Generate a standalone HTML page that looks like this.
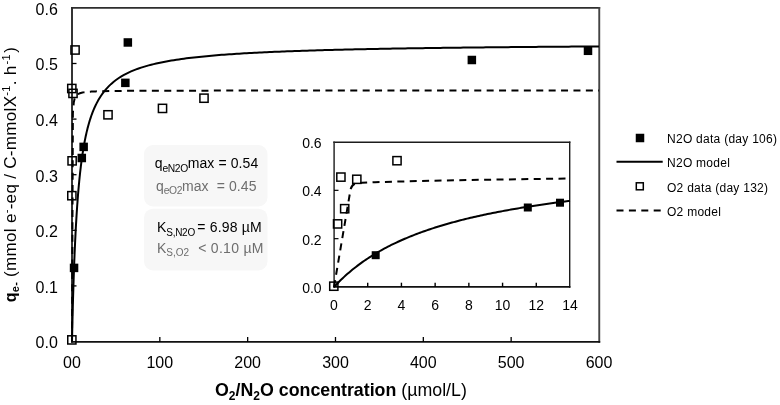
<!DOCTYPE html><html><head><meta charset="utf-8"><style>html,body{margin:0;padding:0;background:#fff;}svg{display:block;will-change:transform;}</style></head><body>
<svg width="780" height="405" viewBox="0 0 780 405">
<rect width="780" height="405" fill="#fff"/>
<rect x="144" y="145" width="123.5" height="61.5" rx="9" fill="#f7f7f7"/>
<rect x="144" y="208.7" width="123.5" height="61.7" rx="9" fill="#f7f7f7"/>
<line x1="71" y1="7.9" x2="600.2" y2="7.9" stroke="#2e2e2e" stroke-width="1.9"/>
<line x1="599.25" y1="7" x2="599.25" y2="342.7" stroke="#444" stroke-width="1.9"/>
<line x1="72" y1="7" x2="72" y2="342.7" stroke="#2a2a2a" stroke-width="1.9"/>
<line x1="71" y1="341.8" x2="600.2" y2="341.8" stroke="#111" stroke-width="1.8"/>
<line x1="72" y1="285.9" x2="76.5" y2="285.9" stroke="#000" stroke-width="1.3"/>
<line x1="72" y1="230.3" x2="76.5" y2="230.3" stroke="#000" stroke-width="1.3"/>
<line x1="72" y1="174.7" x2="76.5" y2="174.7" stroke="#000" stroke-width="1.3"/>
<line x1="72" y1="119.1" x2="76.5" y2="119.1" stroke="#000" stroke-width="1.3"/>
<line x1="72" y1="63.5" x2="76.5" y2="63.5" stroke="#000" stroke-width="1.3"/>
<line x1="159.83" y1="337" x2="159.83" y2="342" stroke="#000" stroke-width="1.3"/>
<line x1="247.66" y1="337" x2="247.66" y2="342" stroke="#000" stroke-width="1.3"/>
<line x1="335.49" y1="337" x2="335.49" y2="342" stroke="#000" stroke-width="1.3"/>
<line x1="423.32" y1="337" x2="423.32" y2="342" stroke="#000" stroke-width="1.3"/>
<line x1="511.15" y1="337" x2="511.15" y2="342" stroke="#000" stroke-width="1.3"/>
<text x="57.8" y="348.4" font-size="16" text-anchor="end" font-family="Liberation Sans, sans-serif">0.0</text>
<text x="57.8" y="292.8" font-size="16" text-anchor="end" font-family="Liberation Sans, sans-serif">0.1</text>
<text x="57.8" y="237.2" font-size="16" text-anchor="end" font-family="Liberation Sans, sans-serif">0.2</text>
<text x="57.8" y="181.6" font-size="16" text-anchor="end" font-family="Liberation Sans, sans-serif">0.3</text>
<text x="57.8" y="126" font-size="16" text-anchor="end" font-family="Liberation Sans, sans-serif">0.4</text>
<text x="57.8" y="70.4" font-size="16" text-anchor="end" font-family="Liberation Sans, sans-serif">0.5</text>
<text x="57.8" y="14.8" font-size="16" text-anchor="end" font-family="Liberation Sans, sans-serif">0.6</text>
<text x="72" y="367.5" font-size="16" text-anchor="middle" font-family="Liberation Sans, sans-serif">00</text>
<text x="159.83" y="367.5" font-size="16" text-anchor="middle" font-family="Liberation Sans, sans-serif">100</text>
<text x="247.66" y="367.5" font-size="16" text-anchor="middle" font-family="Liberation Sans, sans-serif">200</text>
<text x="335.49" y="367.5" font-size="16" text-anchor="middle" font-family="Liberation Sans, sans-serif">300</text>
<text x="423.32" y="367.5" font-size="16" text-anchor="middle" font-family="Liberation Sans, sans-serif">400</text>
<text x="511.15" y="367.5" font-size="16" text-anchor="middle" font-family="Liberation Sans, sans-serif">500</text>
<text x="598.98" y="367.5" font-size="16" text-anchor="middle" font-family="Liberation Sans, sans-serif">600</text>
<path d="M72 341.5 L72.04 339.41 L72.09 337.35 L72.13 335.32 L72.18 333.32 L72.22 331.34 L72.26 329.4 L72.31 327.47 L72.35 325.58 L72.4 323.7 L72.44 321.86 L72.48 320.03 L72.53 318.23 L72.57 316.46 L72.61 314.71 L72.66 312.97 L72.7 311.26 L72.75 309.58 L72.79 307.91 L72.83 306.26 L72.88 304.64 L72.92 303.03 L72.97 301.45 L73.01 299.88 L73.05 298.33 L73.1 296.8 L73.14 295.29 L73.19 293.8 L73.23 292.32 L73.27 290.86 L73.32 289.42 L73.36 288 L73.41 286.59 L73.45 285.2 L73.49 283.82 L73.54 282.46 L73.58 281.11 L73.62 279.78 L73.67 278.47 L73.71 277.17 L73.76 275.88 L73.93 270.87 L74.11 266.07 L74.28 261.47 L74.46 257.06 L74.63 252.82 L74.81 248.74 L74.99 244.82 L75.16 241.05 L75.34 237.41 L75.51 233.91 L75.69 230.53 L75.86 227.26 L76.04 224.11 L76.22 221.07 L76.39 218.12 L76.57 215.27 L76.74 212.52 L76.92 209.85 L77.09 207.26 L77.27 204.75 L77.45 202.32 L77.62 199.95 L77.8 197.66 L77.97 195.44 L78.15 193.27 L78.32 191.17 L78.5 189.13 L78.68 187.14 L78.85 185.2 L79.03 183.32 L79.2 181.48 L79.38 179.69 L79.55 177.95 L79.73 176.25 L79.9 174.6 L80.08 172.98 L80.26 171.4 L80.43 169.87 L80.61 168.36 L80.78 166.9 L80.96 165.46 L81.13 164.06 L81.31 162.69 L81.49 161.36 L81.66 160.05 L81.84 158.77 L82.01 157.52 L82.19 156.29 L82.36 155.09 L82.54 153.92 L82.72 152.77 L82.89 151.64 L83.07 150.54 L83.24 149.45 L83.42 148.39 L83.59 147.35 L83.77 146.34 L83.94 145.34 L84.12 144.36 L84.3 143.4 L84.47 142.45 L84.65 141.53 L84.82 140.62 L85 139.73 L85.17 138.85 L85.35 137.99 L85.53 137.14 L85.7 136.31 L85.88 135.5 L86.05 134.7 L86.23 133.91 L86.4 133.13 L86.58 132.37 L86.76 131.63 L86.93 130.89 L87.11 130.17 L87.28 129.45 L87.46 128.75 L87.63 128.06 L87.81 127.38 L87.99 126.72 L88.16 126.06 L88.34 125.41 L88.51 124.78 L88.69 124.15 L88.86 123.53 L89.04 122.92 L89.21 122.32 L89.39 121.73 L89.57 121.15 L89.74 120.58 L89.92 120.01 L90.09 119.46 L90.27 118.91 L90.44 118.37 L90.62 117.83 L90.8 117.31 L90.97 116.79 L91.15 116.28 L91.32 115.78 L91.5 115.28 L91.67 114.79 L91.85 114.3 L92.03 113.83 L92.2 113.36 L92.38 112.89 L92.55 112.43 L92.73 111.98 L92.9 111.53 L93.08 111.09 L93.25 110.66 L93.43 110.23 L93.61 109.8 L93.78 109.38 L93.96 108.97 L94.13 108.56 L94.31 108.15 L94.48 107.76 L94.66 107.36 L94.84 106.97 L95.01 106.59 L95.19 106.21 L95.36 105.83 L95.54 105.46 L95.71 105.09 L95.89 104.73 L96.07 104.37 L96.24 104.02 L96.42 103.67 L96.59 103.32 L96.77 102.98 L96.94 102.64 L97.12 102.31 L97.3 101.98 L97.47 101.65 L97.65 101.33 L97.82 101.01 L98 100.69 L98.17 100.38 L98.35 100.07 L100.86 95.97 L103.38 92.42 L105.9 89.32 L108.41 86.58 L110.93 84.15 L113.44 81.98 L115.96 80.02 L118.47 78.25 L120.99 76.64 L123.51 75.17 L126.02 73.83 L128.54 72.59 L131.05 71.45 L133.57 70.39 L136.09 69.4 L138.6 68.49 L141.12 67.64 L143.63 66.84 L146.15 66.09 L148.66 65.39 L151.18 64.73 L153.7 64.1 L156.21 63.51 L158.73 62.96 L161.24 62.43 L163.76 61.93 L166.27 61.45 L168.79 61 L171.31 60.57 L173.82 60.16 L176.34 59.77 L178.85 59.39 L181.37 59.03 L183.88 58.69 L186.4 58.36 L188.92 58.05 L191.43 57.74 L193.95 57.45 L196.46 57.17 L198.98 56.9 L201.49 56.65 L204.01 56.4 L206.53 56.16 L209.04 55.92 L211.56 55.7 L214.07 55.48 L216.59 55.27 L219.1 55.07 L221.62 54.87 L224.14 54.68 L226.65 54.5 L229.17 54.32 L231.68 54.15 L234.2 53.98 L236.71 53.82 L239.23 53.66 L241.75 53.51 L244.26 53.36 L246.78 53.21 L249.29 53.07 L251.81 52.94 L254.32 52.8 L256.84 52.67 L259.36 52.55 L261.87 52.42 L264.39 52.3 L266.9 52.18 L269.42 52.07 L271.93 51.96 L274.45 51.85 L276.97 51.74 L279.48 51.64 L282 51.54 L284.51 51.44 L287.03 51.34 L289.54 51.25 L292.06 51.16 L294.58 51.07 L297.09 50.98 L299.61 50.89 L302.12 50.81 L304.64 50.72 L307.15 50.64 L309.67 50.56 L312.19 50.48 L314.7 50.41 L317.22 50.33 L319.73 50.26 L322.25 50.19 L324.77 50.12 L327.28 50.05 L329.8 49.98 L332.31 49.91 L334.83 49.85 L337.34 49.78 L339.86 49.72 L342.38 49.66 L344.89 49.6 L347.41 49.54 L349.92 49.48 L352.44 49.42 L354.95 49.37 L357.47 49.31 L359.99 49.26 L362.5 49.2 L365.02 49.15 L367.53 49.1 L370.05 49.05 L372.56 49 L375.08 48.95 L377.6 48.9 L380.11 48.85 L382.63 48.8 L385.14 48.76 L387.66 48.71 L390.17 48.67 L392.69 48.62 L395.21 48.58 L397.72 48.54 L400.24 48.49 L402.75 48.45 L405.27 48.41 L407.78 48.37 L410.3 48.33 L412.82 48.29 L415.33 48.25 L417.85 48.22 L420.36 48.18 L422.88 48.14 L425.39 48.11 L427.91 48.07 L430.43 48.03 L432.94 48 L435.46 47.96 L437.97 47.93 L440.49 47.9 L443 47.86 L445.52 47.83 L448.04 47.8 L450.55 47.77 L453.07 47.74 L455.58 47.7 L458.1 47.67 L460.61 47.64 L463.13 47.61 L465.65 47.58 L468.16 47.55 L470.68 47.53 L473.19 47.5 L475.71 47.47 L478.22 47.44 L480.74 47.41 L483.26 47.39 L485.77 47.36 L488.29 47.33 L490.8 47.31 L493.32 47.28 L495.83 47.26 L498.35 47.23 L500.87 47.21 L503.38 47.18 L505.9 47.16 L508.41 47.13 L510.93 47.11 L513.45 47.09 L515.96 47.06 L518.48 47.04 L520.99 47.02 L523.51 47 L526.02 46.97 L528.54 46.95 L531.06 46.93 L533.57 46.91 L536.09 46.89 L538.6 46.87 L541.12 46.84 L543.63 46.82 L546.15 46.8 L548.67 46.78 L551.18 46.76 L553.7 46.74 L556.21 46.72 L558.73 46.7 L561.24 46.69 L563.76 46.67 L566.28 46.65 L568.79 46.63 L571.31 46.61 L573.82 46.59 L576.34 46.57 L578.85 46.56 L581.37 46.54 L583.89 46.52 L586.4 46.5 L588.92 46.49 L591.43 46.47 L593.95 46.45 L596.46 46.44 L598.98 46.42" fill="none" stroke="#000" stroke-width="2"/>
<path d="M72 341.5 L72.88 113.29 L73.76 102.42 L74.63 98.56 L75.51 96.59 L76.39 95.39 L77.27 94.58 L78.15 94 L79.03 93.57 L79.9 93.22 L80.78 92.95 L81.66 92.73 L82.54 92.54 L83.42 92.38 L84.3 92.25 L85.17 92.13 L86.05 92.03 L86.93 91.93 L87.81 91.85 L88.69 91.78 L89.57 91.71 L90.44 91.66 L91.32 91.6 L92.2 91.55 L93.08 91.51 L93.96 91.47 L94.84 91.43 L95.71 91.39 L96.59 91.36 L97.47 91.33 L98.35 91.3 L102.74 91.18 L115.46 90.97 L128.19 90.86 L140.91 90.79 L153.64 90.74 L166.36 90.7 L179.09 90.67 L191.81 90.65 L204.53 90.63 L217.26 90.62 L229.98 90.61 L242.71 90.6 L255.43 90.59 L268.15 90.58 L280.88 90.57 L293.6 90.57 L306.33 90.56 L319.05 90.56 L331.77 90.55 L344.5 90.55 L357.22 90.54 L369.95 90.54 L382.67 90.54 L395.39 90.53 L408.12 90.53 L420.84 90.53 L433.57 90.53 L446.29 90.52 L459.02 90.52 L471.74 90.52 L484.46 90.52 L497.19 90.52 L509.91 90.52 L522.64 90.51 L535.36 90.51 L548.08 90.51 L560.81 90.51 L573.53 90.51 L586.26 90.51 L598.98 90.51" fill="none" stroke="#000" stroke-width="2" stroke-dasharray="7 5.4" stroke-dashoffset="-0.6"/>
<rect x="67.75" y="335.8" width="8.2" height="8.2" fill="none" stroke="#000" stroke-width="1.5"/>
<rect x="67.75" y="191.6" width="8.2" height="8.2" fill="none" stroke="#000" stroke-width="1.5"/>
<rect x="68" y="156.75" width="8.2" height="8.2" fill="none" stroke="#000" stroke-width="1.5"/>
<rect x="67.7" y="84.4" width="8.2" height="8.2" fill="none" stroke="#000" stroke-width="1.5"/>
<rect x="68.9" y="89.3" width="8.2" height="8.2" fill="none" stroke="#000" stroke-width="1.5"/>
<rect x="70.95" y="45.9" width="8.2" height="8.2" fill="none" stroke="#000" stroke-width="1.5"/>
<rect x="103.9" y="110.7" width="8.2" height="8.2" fill="none" stroke="#000" stroke-width="1.5"/>
<rect x="158.4" y="104.3" width="8.2" height="8.2" fill="none" stroke="#000" stroke-width="1.5"/>
<rect x="199.9" y="94.1" width="8.2" height="8.2" fill="none" stroke="#000" stroke-width="1.5"/>
<rect x="69.8" y="263.65" width="8.5" height="8.5" fill="#000"/>
<rect x="77.55" y="153.75" width="8.5" height="8.5" fill="#000"/>
<rect x="79.4" y="142.65" width="8.5" height="8.5" fill="#000"/>
<rect x="121.1" y="78.6" width="8.5" height="8.5" fill="#000"/>
<rect x="123.59" y="38.21" width="8.5" height="8.5" fill="#000"/>
<rect x="467.6" y="55.75" width="8.5" height="8.5" fill="#000"/>
<rect x="583.75" y="46.55" width="8.5" height="8.5" fill="#000"/>
<g font-family="Liberation Sans, sans-serif" font-size="14">
<text x="154.8" y="168" fill="#000">q<tspan font-size="10.3" letter-spacing="-0.45" dy="3.5">eN2O</tspan><tspan dy="-3.5" letter-spacing="0.1">max = 0.54</tspan></text>
<text x="156" y="190.6" fill="#6e6e6e">q<tspan font-size="10.3" letter-spacing="-0.45" dy="3.5">eO2</tspan><tspan dy="-3.5" letter-spacing="0.1">max&#160; = 0.45</tspan></text>
<text x="157" y="232.2" fill="#000">K<tspan font-size="10" letter-spacing="-0.3" dy="3.3">S,N2O</tspan><tspan dy="-3.3" dx="2.4" letter-spacing="0.18">= 6.98 µM</tspan></text>
<text x="157" y="252.8" fill="#6e6e6e">K<tspan font-size="10" dy="3.3">S,O2</tspan><tspan dy="-3.3" dx="9" letter-spacing="0.3">&lt; 0.10 µM</tspan></text>
</g>
<rect x="334" y="142.3" width="235.7" height="144.6" fill="#fff"/>
<line x1="333.3" y1="142.3" x2="570.4" y2="142.3" stroke="#1c1c1c" stroke-width="1.4"/>
<line x1="569.7" y1="141.6" x2="569.7" y2="287.7" stroke="#1c1c1c" stroke-width="1.4"/>
<line x1="334.1" y1="141.6" x2="334.1" y2="287.7" stroke="#2a2a2a" stroke-width="1.5"/>
<line x1="333.3" y1="286.9" x2="570.4" y2="286.9" stroke="#111" stroke-width="1.6"/>
<line x1="334" y1="238.67" x2="338.5" y2="238.67" stroke="#000" stroke-width="1.2"/>
<line x1="334" y1="190.33" x2="338.5" y2="190.33" stroke="#000" stroke-width="1.2"/>
<line x1="367.71" y1="282.7" x2="367.71" y2="287" stroke="#000" stroke-width="1.4"/>
<line x1="401.43" y1="282.7" x2="401.43" y2="287" stroke="#000" stroke-width="1.4"/>
<line x1="435.14" y1="282.7" x2="435.14" y2="287" stroke="#000" stroke-width="1.4"/>
<line x1="468.86" y1="282.7" x2="468.86" y2="287" stroke="#000" stroke-width="1.4"/>
<line x1="502.57" y1="282.7" x2="502.57" y2="287" stroke="#000" stroke-width="1.4"/>
<line x1="536.28" y1="282.7" x2="536.28" y2="287" stroke="#000" stroke-width="1.4"/>
<text x="321.6" y="292.9" font-size="14" text-anchor="end" font-family="Liberation Sans, sans-serif">0.0</text>
<text x="321.6" y="244.57" font-size="14" text-anchor="end" font-family="Liberation Sans, sans-serif">0.2</text>
<text x="321.6" y="196.23" font-size="14" text-anchor="end" font-family="Liberation Sans, sans-serif">0.4</text>
<text x="321.6" y="147.9" font-size="14" text-anchor="end" font-family="Liberation Sans, sans-serif">0.6</text>
<text x="334" y="310" font-size="14" text-anchor="middle" font-family="Liberation Sans, sans-serif">0</text>
<text x="367.71" y="310" font-size="14" text-anchor="middle" font-family="Liberation Sans, sans-serif">2</text>
<text x="401.43" y="310" font-size="14" text-anchor="middle" font-family="Liberation Sans, sans-serif">4</text>
<text x="435.14" y="310" font-size="14" text-anchor="middle" font-family="Liberation Sans, sans-serif">6</text>
<text x="468.86" y="310" font-size="14" text-anchor="middle" font-family="Liberation Sans, sans-serif">8</text>
<text x="502.57" y="310" font-size="14" text-anchor="middle" font-family="Liberation Sans, sans-serif">10</text>
<text x="536.28" y="310" font-size="14" text-anchor="middle" font-family="Liberation Sans, sans-serif">12</text>
<text x="570" y="310" font-size="14" text-anchor="middle" font-family="Liberation Sans, sans-serif">14</text>
<path d="M334 287 L335.69 285.2 L337.37 283.44 L339.06 281.74 L340.74 280.08 L342.43 278.46 L344.11 276.89 L345.8 275.35 L347.49 273.86 L349.17 272.4 L350.86 270.98 L352.54 269.59 L354.23 268.24 L355.91 266.92 L357.6 265.62 L359.29 264.36 L360.97 263.13 L362.66 261.93 L364.34 260.75 L366.03 259.6 L367.71 258.48 L369.4 257.38 L371.09 256.3 L372.77 255.25 L374.46 254.21 L376.14 253.2 L377.83 252.21 L379.51 251.25 L381.2 250.3 L382.89 249.36 L384.57 248.45 L386.26 247.56 L387.94 246.68 L389.63 245.82 L391.31 244.98 L393 244.15 L394.69 243.34 L396.37 242.54 L398.06 241.76 L399.74 240.99 L401.43 240.23 L403.11 239.49 L404.8 238.76 L406.49 238.05 L408.17 237.35 L409.86 236.66 L411.54 235.98 L413.23 235.31 L414.91 234.65 L416.6 234.01 L418.28 233.37 L419.97 232.75 L421.66 232.14 L423.34 231.53 L425.03 230.94 L426.71 230.35 L428.4 229.78 L430.08 229.21 L431.77 228.65 L433.46 228.1 L435.14 227.56 L436.83 227.03 L438.51 226.5 L440.2 225.99 L441.88 225.48 L443.57 224.97 L445.26 224.48 L446.94 223.99 L448.63 223.51 L450.31 223.04 L452 222.57 L453.68 222.11 L455.37 221.66 L457.06 221.21 L458.74 220.77 L460.43 220.33 L462.11 219.9 L463.8 219.48 L465.48 219.06 L467.17 218.65 L468.86 218.24 L470.54 217.84 L472.23 217.45 L473.91 217.06 L475.6 216.67 L477.28 216.29 L478.97 215.91 L480.66 215.54 L482.34 215.17 L484.03 214.81 L485.71 214.45 L487.4 214.1 L489.08 213.75 L490.77 213.41 L492.46 213.07 L494.14 212.73 L495.83 212.4 L497.51 212.07 L499.2 211.74 L500.88 211.42 L502.57 211.11 L504.26 210.79 L505.94 210.48 L507.63 210.18 L509.31 209.88 L511 209.58 L512.68 209.28 L514.37 208.99 L516.06 208.7 L517.74 208.41 L519.43 208.13 L521.11 207.85 L522.8 207.57 L524.48 207.3 L526.17 207.03 L527.86 206.76 L529.54 206.5 L531.23 206.23 L532.91 205.98 L534.6 205.72 L536.28 205.46 L537.97 205.21 L539.66 204.96 L541.34 204.72 L543.03 204.48 L544.71 204.23 L546.4 204 L548.08 203.76 L549.77 203.53 L551.46 203.29 L553.14 203.06 L554.83 202.84 L556.51 202.61 L558.2 202.39 L559.88 202.17 L561.57 201.95 L563.26 201.74 L564.94 201.52 L566.63 201.31 L568.31 201.1 L570 200.89" fill="none" stroke="#000" stroke-width="2"/>
<path d="M334 287 L350.6 189.2 Q352.3 184.3 355.5 183.6 L362 182.8 L375 182.2 L420 181 L470 180 L520 179.2 L570 178.5" fill="none" stroke="#000" stroke-width="2" stroke-dasharray="7 5.4" stroke-dashoffset="0"/>
<rect x="329.7" y="282.1" width="8.2" height="8.2" fill="none" stroke="#000" stroke-width="1.5"/>
<rect x="333.5" y="219.8" width="8.2" height="8.2" fill="none" stroke="#000" stroke-width="1.5"/>
<rect x="340.6" y="204.6" width="8.2" height="8.2" fill="none" stroke="#000" stroke-width="1.5"/>
<rect x="336.8" y="173" width="8.2" height="8.2" fill="none" stroke="#000" stroke-width="1.5"/>
<rect x="352.7" y="175.2" width="8.2" height="8.2" fill="none" stroke="#000" stroke-width="1.5"/>
<rect x="392.9" y="156.6" width="8.2" height="8.2" fill="none" stroke="#000" stroke-width="1.5"/>
<rect x="371.7" y="251.2" width="8" height="8" fill="#000"/>
<rect x="523.8" y="203.5" width="8" height="8" fill="#000"/>
<rect x="556" y="198.7" width="8" height="8" fill="#000"/>
<g font-family="Liberation Sans, sans-serif" font-size="12" fill="#000" letter-spacing="0.27">
<rect x="635.75" y="133.75" width="8.5" height="8.5" fill="#000"/>
<text x="667" y="142.8">N2O data (day 106)</text>
<line x1="616.5" y1="161.8" x2="662.7" y2="161.8" stroke="#000" stroke-width="2"/>
<text x="667" y="167.3">N2O model</text>
<rect x="636.3" y="182.8" width="7" height="7" fill="none" stroke="#000" stroke-width="1.5"/>
<text x="667" y="191.7">O2 data (day 132)</text>
<line x1="616.5" y1="210.5" x2="662.7" y2="210.5" stroke="#000" stroke-width="2" stroke-dasharray="7 5.4"/>
<text x="667" y="215.6">O2 model</text>
</g>
<text x="215" y="395.6" font-size="17.8" font-family="Liberation Sans, sans-serif"><tspan font-weight="bold">O<tspan font-size="12" dy="4.8">2</tspan><tspan dy="-4.8">/N</tspan><tspan font-size="12" dy="4.8">2</tspan><tspan dy="-4.8">O concentration</tspan></tspan> (µmol/L)</text>
<text transform="translate(15.5 302.3) rotate(-90)" font-size="17.1" letter-spacing="0.27" font-family="Liberation Sans, sans-serif"><tspan font-weight="bold" font-size="16">q<tspan font-size="11" dy="3">e-</tspan></tspan><tspan dy="-3"> (mmol e</tspan><tspan font-size="11" dy="-6">-</tspan><tspan dy="6">-eq / C-mmolX</tspan><tspan font-size="11" dy="-6">-1</tspan><tspan dy="6" dx="0">.</tspan><tspan dx="0"> h</tspan><tspan font-size="11" dy="-6" dx="1">-1</tspan><tspan dy="6" dx="1.5">)</tspan></text>
</svg></body></html>
